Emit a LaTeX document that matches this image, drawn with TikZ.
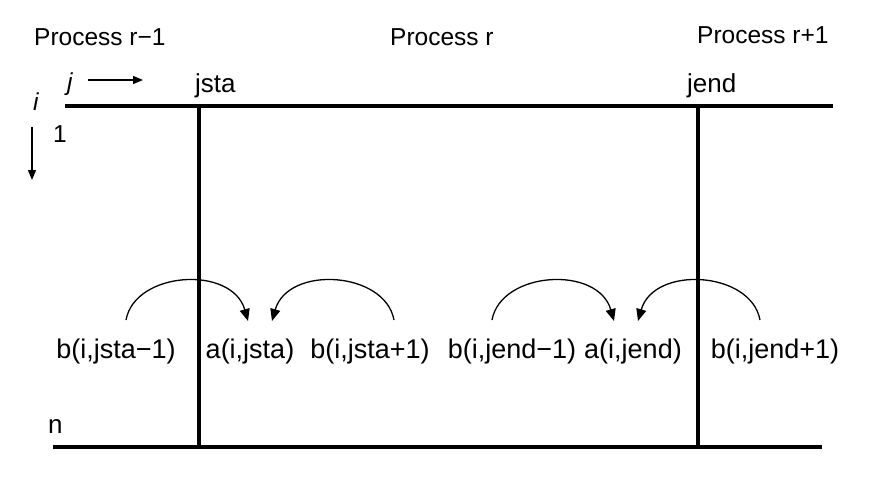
\documentclass[tikz,border=0pt]{standalone}
\usepackage{fontspec}
\setmainfont{Liberation Sans}
\usetikzlibrary{arrows.meta}
\begin{document}
\begin{tikzpicture}[x=1pt,y=-1pt,
  txt/.style={inner sep=0pt,font=\fontsize{24.5}{28}\selectfont},
  lbl/.style={inner sep=0pt,anchor=base,font=\fontsize{27}{30}\selectfont},
  hline/.style={line width=4.5pt},
  vline/.style={line width=3.3pt},
  arc/.style={line width=1.3pt,-{Triangle[length=12pt,width=10pt]}},
  axis/.style={line width=1.3pt,-{Triangle[length=10pt,width=8pt]}}]
\useasboundingbox (0,0) rectangle (870,490);
% titles
\node[txt,anchor=base west] (p1) at (34,45) {Process r\textminus1};
\node[txt,anchor=base west] (p2) at (390,45) {Process r};
\node[txt,anchor=base west] (p3) at (697,43) {Process r+1};
% column labels
\node[lbl,anchor=base west,font=\fontsize{26}{30}\selectfont] (jsta) at (195,92) {jsta};
\node[lbl,anchor=base west,font=\fontsize{26}{30}\selectfont] (jend) at (687,92) {jend};
% axes
\node[txt,anchor=base west] (jj) at (67,90) {\textit{j}};
\coordinate (ja) at (88,80);
\coordinate (jb) at (143,80);
\draw[axis] (ja) -- (jb);
\node[txt,anchor=base west] (ii) at (33,110) {\textit{i}};
\coordinate (ia) at (32,127);
\coordinate (ib) at (32,180);
\draw[axis] (ia) -- (ib);
\node[txt,anchor=base west] (one) at (53,142) {1};
\node[txt,anchor=base west,font=\fontsize{26}{30}\selectfont] (nn) at (48,433) {n};
% grid lines
\coordinate (tl) at (65,106);
\coordinate (tr) at (833,106);
\coordinate (bl) at (53,447);
\coordinate (br) at (822,447);
\coordinate (v1t) at (199,106);
\coordinate (v1b) at (199,447);
\coordinate (v2t) at (698,106);
\coordinate (v2b) at (698,447);
\draw[hline] (tl) -- (tr);
\draw[hline] (bl) -- (br);
\draw[vline] (v1t) -- (v1b);
\draw[vline] (v2t) -- (v2b);
% element labels
\node[lbl] (b1) at (116,358) {b(i,jsta\textminus1)};
\node[lbl] (a1) at (250,358) {a(i,jsta)};
\node[lbl] (b2) at (370,358) {b(i,jsta+1)};
\node[lbl] (b3) at (512,358) {b(i,jend\textminus1)};
\node[lbl] (a2) at (633,358) {a(i,jend)};
\node[lbl] (b4) at (775,358) {b(i,jend+1)};
% arcs
\coordinate (s1) at (126,320); \coordinate (e1) at (248,321);
\coordinate (s2) at (394,320); \coordinate (e2) at (272,321);
\coordinate (s3) at (492,320); \coordinate (e3) at (614,321);
\coordinate (s4) at (760,320); \coordinate (e4) at (638,321);
\draw[arc] (s1) .. controls ([shift={(9,-49)}]s1) and ([shift={(-16,-56)}]e1) .. (e1);
\draw[arc] (s2) .. controls ([shift={(-9,-49)}]s2) and ([shift={(16,-56)}]e2) .. (e2);
\draw[arc] (s3) .. controls ([shift={(9,-49)}]s3) and ([shift={(-16,-56)}]e3) .. (e3);
\draw[arc] (s4) .. controls ([shift={(-9,-49)}]s4) and ([shift={(16,-56)}]e4) .. (e4);
\end{tikzpicture}
\end{document}
